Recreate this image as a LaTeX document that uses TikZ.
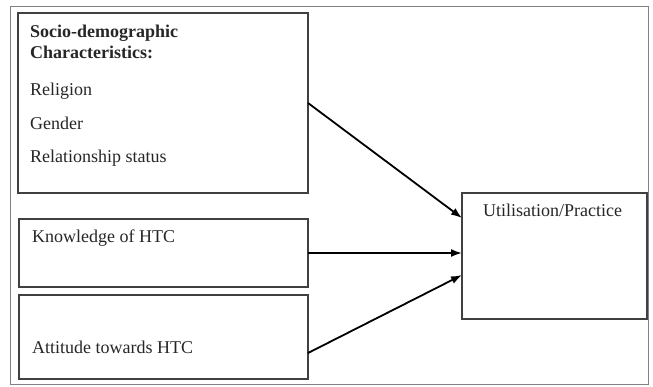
\documentclass[tikz,border=0pt]{standalone}
\usepackage{fontspec}
\setmainfont{Liberation Serif}
\usetikzlibrary{arrows.meta,calc}
\begin{document}
\begin{tikzpicture}[x=1bp,y=-1bp,
  box/.style={draw=black!75,line width=1.6bp,anchor=north west,inner sep=0,outer sep=0},
  lbl/.style={anchor=base west,inner sep=0,font=\fontsize{18bp}{20bp}\selectfont,text=black!85},
  arr/.style={line width=1.8bp,-{Latex[length=11bp,width=8bp]}}]
\useasboundingbox (0,0) rectangle (653,386);
\node[draw=black!50,line width=0.8bp,anchor=north west,minimum width=638bp,minimum height=378bp,inner sep=0] (frame) at (10,6) {};
\node[box,minimum width=290bp,minimum height=180bp] (b1) at (18,13) {};
\node[box,minimum width=289bp,minimum height=68bp] (b2) at (19,219) {};
\node[box,minimum width=289bp,minimum height=84bp] (b3) at (19,295) {};
\node[box,minimum width=185bp,minimum height=126bp] (b4) at (462,193) {};
\node[lbl,font=\fontsize{18bp}{20bp}\selectfont\bfseries] (t1) at (30,37) {Socio-demographic};
\node[lbl,font=\fontsize{18bp}{20bp}\selectfont\bfseries] (t2) at (30,58) {Characteristics:};
\node[lbl] (t3) at (30,95) {Religion};
\node[lbl] (t4) at (30,129) {Gender};
\node[lbl] (t5) at (30,162) {Relationship status};
\node[lbl] (t6) at (32,242) {Knowledge of HTC};
\node[lbl] (t7) at (32,353) {Attitude towards HTC};
\node[lbl] (t8) at (483,216) {Utilisation/Practice};
\draw[arr] ([yshift=-90bp]b1.north east) -- ([yshift=-25bp]b4.north west);
\draw[arr] (b2.east) -- (b4.west |- b2.east);
\draw[arr] ([yshift=-58bp]b3.north east) -- ([yshift=-82bp]b4.north west);
\end{tikzpicture}
\end{document}
